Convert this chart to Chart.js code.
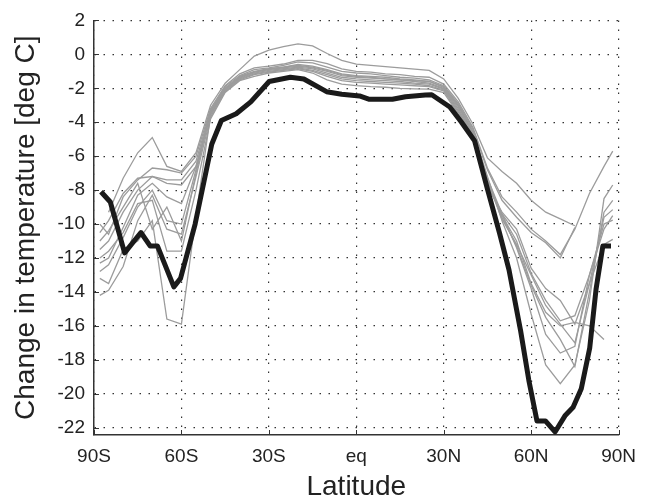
<!DOCTYPE html>
<html>
<head>
<meta charset="utf-8">
<script src="https://cdn.jsdelivr.net/npm/chart.js@4.4.0/dist/chart.umd.min.js"></script>
<style>
  html, body { margin: 0; padding: 0; background: #fff; }
  #chart { display: block; }
</style>
</head>
<body>
<canvas id="chart" width="646" height="501"></canvas>
<script>
// axis ticks
var xTicks = [-90, -60, -30, 0, 30, 60, 90];
var xTickLabels = ['90S', '60S', '30S', 'eq', '30N', '60N', '90N'];
var yTicks = [-22, -20, -18, -16, -14, -12, -10, -8, -6, -4, -2, 0, 2];

// thick black curve
var obsLat = [-87.6, -84.4, -79.5, -73.9, -70.7, -68.2, -62.6, -60.3, -55.3, -49.6, -46.3, -41.2,
    -36.2, -29.9, -22.6, -18, -10.2, -5, 1.1, 4.5, 12.4, 16.9, 23.7, 25.9, 32.1, 36.1, 40.6,
    45.1, 49.1, 52.4, 56.4, 59.2, 62.0, 64.9, 68.2, 71.6, 74.4, 77.2, 80.1, 82.3, 84.6, 87.4];
var obsChange = [-8.1, -8.7, -11.7, -10.5, -11.3, -11.3, -13.7, -13.2, -10.0, -5.3, -3.9, -3.5,
    -2.8, -1.6, -1.35, -1.45, -2.2, -2.35, -2.45, -2.65, -2.65, -2.5, -2.4, -2.38, -3.1, -4.0, -5.1,
    -8.0, -10.5, -12.7, -16.3, -19.2, -21.6, -21.6, -22.25, -21.3, -20.8, -19.7, -17.3, -13.8, -11.3, -11.3];

// thin grey model curves, all on one latitude grid (null = no value)
var modelLat = [-88, -85, -80, -75, -70, -65, -60, -55, -50, -45, -40, -35, -30, -25, -20, -15, -10, -5,
    0, 5, 10, 15, 20, 25, 30, 35, 40, 45, 50, 55, 60, 65, 70, 75, 80, 85, 88];
var model1 = [null, -9.3, -7.3, -5.8, -4.9, -6.6, -6.9, -5.8, -3.0, -1.7, -0.9, -0.1, 0.25, 0.45, 0.62, 0.5, 0.05, -0.35,
    -0.58, -0.65, -0.72, -0.8, -0.87, -0.95, -1.45, -2.6, -4.1, -6.1, -6.9, -7.6, -8.6, -9.3, -9.7, -10.1, null, null, null];
var model2 = [-10.0, -10.6, -8.4, -7.4, -6.7, -6.8, -7.0, -6.0, -3.2, -1.85, -1.15, -0.8, -0.7, -0.57, -0.35, -0.35, -0.55, -0.85,
    -1.0, -1.05, -1.15, -1.2, -1.3, -1.35, -1.75, -2.8, -4.3, -6.7, -8.4, -9.3, -10.3, -11.0, -11.8, -10.3, -8.2, -6.6, -5.7];
var model3 = [-11.5, -11.0, -9.3, -8.0, -7.2, -7.4, -7.4, -6.3, -3.3, -1.9, -1.25, -0.9, -0.8, -0.65, -0.45, -0.5, -0.75, -1.0,
    -1.1, -1.15, -1.25, -1.35, -1.4, -1.5, -1.85, -2.9, -4.4, -6.8, -8.6, -9.6, -10.5, -11.1, -12.0, -10.2, null, null, null];
var model4 = [-12.3, -12.0, -10.2, -8.3, -7.6, -8.4, -8.8, -6.6, -3.4, -2.0, -1.3, -1.0, -0.85, -0.75, -0.6, -0.7, -0.9, -1.15,
    -1.25, -1.3, -1.35, -1.45, -1.5, -1.6, -1.95, -3.0, -4.5, -7.2, -9.8, -12.0, -15.3, -18.3, -19.4, -18.3, -14.5, -8.5, -7.7];
var model5 = [-12.8, -12.4, -10.8, -9.0, -8.0, -9.8, -10.0, -6.8, -3.5, -2.05, -1.35, -1.05, -0.9, -0.8, -0.7, -0.8, -1.0, -1.25,
    -1.35, -1.4, -1.45, -1.5, -1.6, -1.7, -2.0, -3.1, -4.6, -7.4, -9.6, -11.3, -13.6, -15.5, -16.8, -18.4, -14.0, -9.3, -8.6];
var model6 = [-13.2, -13.5, -11.5, -11.0, -9.8, -15.6, -15.9, -9.5, -3.6, -2.1, -1.4, -1.1, -0.95, -0.85, -0.75, -0.85, -1.1, -1.35,
    -1.45, -1.5, -1.55, -1.6, -1.7, -1.75, -2.05, -3.2, -4.7, -7.5, -9.7, -11.2, -13.0, -14.8, -15.9, -17.0, -13.5, -9.6, -9.15];
var model7 = [-14.2, -13.9, -12.5, -9.8, -8.3, -10.3, -10.6, -7.2, -3.7, -2.15, -1.45, -1.15, -1.0, -0.9, -0.8, -0.95, -1.2, -1.45,
    -1.55, -1.6, -1.65, -1.7, -1.75, -1.85, -2.1, -3.3, -4.8, -7.6, -9.5, -11.0, -13.5, -15.2, -16.0, -15.8, -16.0, -16.8, null];
var model8 = [-10.5, -9.8, -8.2, -7.3, -7.2, -7.6, -7.7, -6.6, -3.5, -2.2, -1.5, -1.2, -1.05, -0.95, -0.85, -1.0, -1.3, -1.55,
    -1.65, -1.7, -1.75, -1.8, -1.85, -1.9, -2.15, -3.4, -4.85, -7.7, -9.4, -10.6, -12.9, -14.5, -15.7, -15.4, -13.0, -10.0, -9.77];
var model9 = [-12.0, -11.6, -10.5, -8.8, -8.6, -11.6, -11.6, -8.0, -3.8, -2.25, -1.55, -1.3, -1.1, -1.0, -0.9, -1.1, -1.5, -1.75,
    -1.84, -1.9, -1.94, -2.0, -2.03, -2.05, -2.25, -3.5, -4.9, -7.8, -9.3, -10.3, -12.6, -13.8, -14.5, -15.9, -13.5, -11.2, -10.9];
var model10 = [-11.0, -10.4, -9.0, -7.6, -10.3, -9.0, -11.0, -7.0, -3.4, -2.0, -1.35, -1.05, -0.85, -0.75, -0.65, -0.75, -0.95, -1.2,
    -1.3, -1.35, -1.45, -1.5, -1.55, -1.6, -1.9, -3.0, -4.6, -7.3, -9.4, -11.4, -13.8, -16.5, -17.6, -17.2, -13.0, -10.3, -9.5];
var models = [model1, model2, model3, model4, model5, model6, model7, model8, model9, model10];

function toPoints(lats, vals) {
    var pts = [];
    for (var i = 0; i < lats.length; i++) {
        pts.push({ x: lats[i], y: vals[i] });
    }
    return pts;
}

var datasets = [{
    data: toPoints(obsLat, obsChange),
    borderColor: '#1a1a1a',
    borderWidth: 5,
    borderJoinStyle: 'round',
    pointRadius: 0
}];
models.forEach(function (m) {
    datasets.push({
        data: toPoints(modelLat, m),
        borderColor: '#9c9c9c',
        borderWidth: 1.3,
        pointRadius: 0,
        spanGaps: false
    });
});

// small inward tick marks on the left and bottom axes
var inwardTicks = {
    id: 'inwardTicks',
    beforeDatasetsDraw: function (chart) {
        var ctx = chart.ctx, area = chart.chartArea;
        var xs = chart.scales.x, ys = chart.scales.y;
        ctx.save();
        ctx.strokeStyle = '#333';
        ctx.lineWidth = 1;
        xTicks.forEach(function (v) {
            var px = Math.round(xs.getPixelForValue(v)) + 0.5;
            ctx.beginPath();
            ctx.moveTo(px, area.bottom);
            ctx.lineTo(px, area.bottom - 5);
            ctx.stroke();
        });
        yTicks.forEach(function (v) {
            var py = Math.round(ys.getPixelForValue(v)) + 0.5;
            ctx.beginPath();
            ctx.moveTo(area.left, py);
            ctx.lineTo(area.left + 5, py);
            ctx.stroke();
        });
        ctx.restore();
    }
};

var fontFamily = '"Liberation Sans", Arial, Helvetica, sans-serif';

new Chart(document.getElementById('chart').getContext('2d'), {
    type: 'line',
    data: { datasets: datasets },
    plugins: [inwardTicks],
    options: {
        responsive: false,
        animation: false,
        layout: { padding: { top: 14, right: 20, left: 0, bottom: 0 } },
        plugins: {
            legend: { display: false },
            tooltip: { enabled: false }
        },
        elements: { line: { tension: 0 } },
        scales: {
            x: {
                type: 'linear',
                min: -90,
                max: 90,
                afterBuildTicks: function (scale) {
                    scale.ticks = xTicks.map(function (v) { return { value: v }; });
                },
                afterFit: function (scale) { scale.height = 66; },
                ticks: {
                    autoSkip: false,
                    maxRotation: 0,
                    padding: 10,
                    color: '#222',
                    font: { family: fontFamily, size: 19 },
                    callback: function (value) {
                        return xTickLabels[xTicks.indexOf(value)];
                    }
                },
                grid: { color: '#333', lineWidth: 1.2, drawTicks: false, tickLength: 0 },
                border: { display: true, color: '#333', width: 1.5, dash: [1.5, 7.5] },
                title: {
                    display: true,
                    text: 'Latitude',
                    color: '#222',
                    font: { family: fontFamily, size: 28, lineHeight: 1 },
                    padding: { top: 0, bottom: 0 }
                }
            },
            y: {
                type: 'linear',
                min: -22.43,
                max: 2,
                afterBuildTicks: function (scale) {
                    scale.ticks = yTicks.map(function (v) { return { value: v }; });
                },
                afterFit: function (scale) { scale.width = 94; },
                ticks: {
                    autoSkip: false,
                    padding: 9,
                    color: '#222',
                    font: { family: fontFamily, size: 19 },
                    callback: function (value) { return String(value); }
                },
                grid: { color: '#333', lineWidth: 1.2, drawTicks: false, tickLength: 0 },
                border: { display: true, color: '#333', width: 1.5, dash: [1.5, 7.5] },
                title: {
                    display: true,
                    text: 'Change in temperature [deg C]',
                    color: '#222',
                    font: { family: fontFamily, size: 28, lineHeight: 1 },
                    padding: { top: 12, bottom: 0 }
                }
            }
        }
    }
});
</script>
</body>
</html>
